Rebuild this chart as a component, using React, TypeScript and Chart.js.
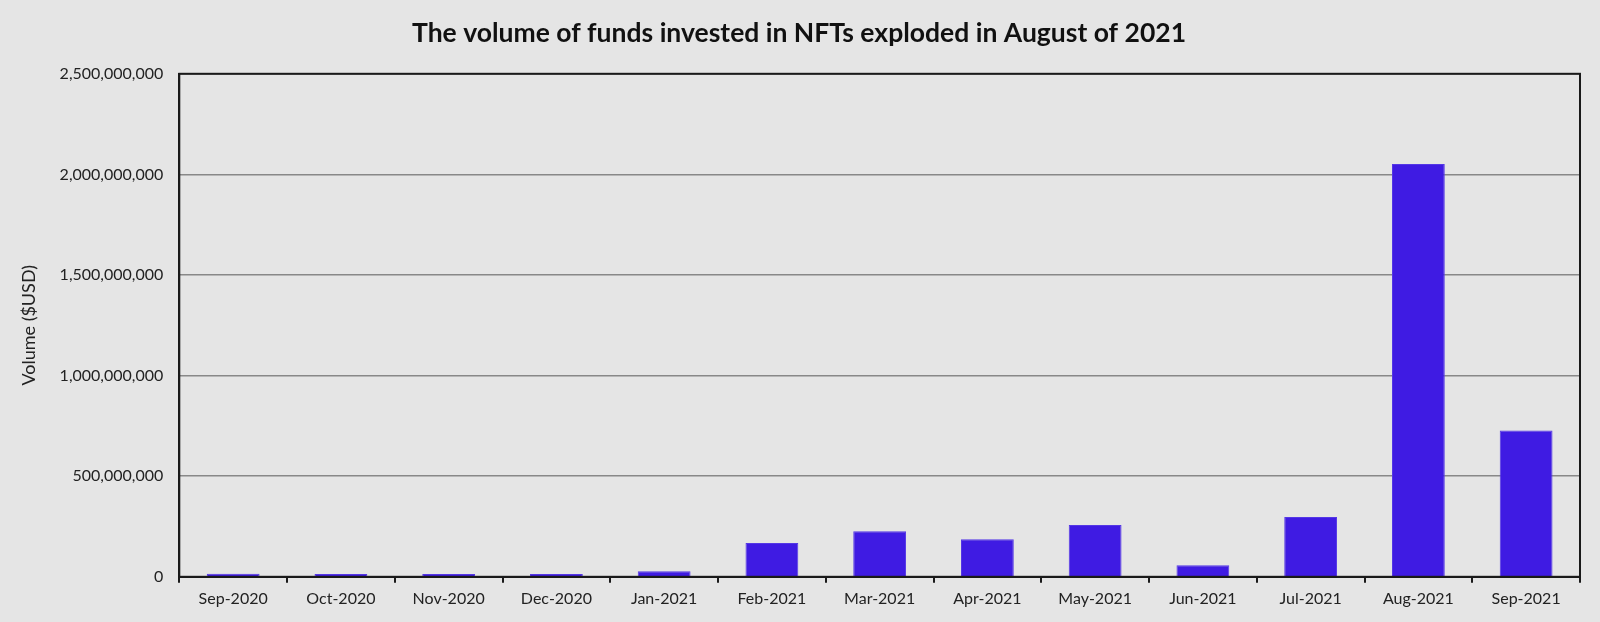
import { useEffect, useRef } from 'react';
import { Chart, registerables } from 'chart.js';

Chart.register(...registerables);

const months = [
  'Sep-2020', 'Oct-2020', 'Nov-2020', 'Dec-2020', 'Jan-2021', 'Feb-2021', 'Mar-2021',
  'Apr-2021', 'May-2021', 'Jun-2021', 'Jul-2021', 'Aug-2021', 'Sep-2021'
];
const volumeUsd = [
  15e6, 14e6, 14e6, 14e6, 28e6, 168e6, 227e6,
  187e6, 258e6, 57e6, 297e6, 2052e6, 727e6
];
const yMax = 2.5e9;
const yStep = 5e8;

const BG = '#e5e5e5';
const BAR = '#3f1be3';
const FONT = 'Lato, "Open Sans", sans-serif';

// frame around the plot area (top/right sides included)
const framePlugin = {
  id: 'frame',
  afterDraw(chart: any) {
    const { ctx, chartArea: a } = chart;
    ctx.save();
    ctx.strokeStyle = '#1a1a1a';
    ctx.lineWidth = 2;
    ctx.strokeRect(a.left, a.top, a.right - a.left, a.bottom - a.top);
    ctx.restore();
  }
};

export default function App() {
  const canvasRef = useRef<HTMLCanvasElement | null>(null);

  useEffect(() => {
    if (!canvasRef.current) return;

    const chart = new Chart(canvasRef.current, {
      type: 'bar',
      data: {
        labels: months,
        datasets: [
          {
            data: volumeUsd,
            backgroundColor: BAR,
            borderColor: '#5437e6',
            borderWidth: 1,
            barPercentage: 0.49,
            categoryPercentage: 1
          }
        ]
      },
      plugins: [framePlugin],
      options: {
        responsive: true,
        maintainAspectRatio: false,
        animation: false,
        layout: { padding: { left: 18, right: 20, bottom: 8, top: 0 } },
        plugins: {
          legend: { display: false },
          tooltip: { enabled: false },
          title: {
            display: true,
            text: 'The volume of funds invested in NFTs exploded in August of 2021',
            color: '#111',
            font: { family: FONT, size: 26.5, weight: 'bold' },
            padding: { top: 18, bottom: 24 }
          }
        },
        scales: {
          x: {
            grid: {
              offset: true,
              drawOnChartArea: false,
              drawTicks: true,
              tickLength: 6,
              color: '#1a1a1a',
              lineWidth: 2
            },
            border: { display: true, color: '#1a1a1a', width: 2 },
            ticks: {
              color: '#222',
              font: { family: FONT, size: 16 },
              padding: 6,
              maxRotation: 0
            }
          },
          y: {
            min: 0,
            max: yMax,
            grid: { color: '#888', lineWidth: 1.5, drawTicks: false },
            border: { display: true, color: '#1a1a1a', width: 2 },
            ticks: {
              stepSize: yStep,
              color: '#222',
              font: { family: FONT, size: 16 },
              padding: 16,
              callback: (v: any) => Number(v).toLocaleString('en-US')
            },
            title: {
              display: true,
              text: 'Volume ($USD)',
              color: '#222',
              font: { family: FONT, size: 18 },
              padding: { top: 0, bottom: 4 }
            }
          }
        }
      }
    });

    return () => chart.destroy();
  }, []);

  return (
    <div style={{ position: 'fixed', left: 0, top: 0, width: 1600, height: 622, background: BG }}>
      <canvas ref={canvasRef}></canvas>
    </div>
  );
}
